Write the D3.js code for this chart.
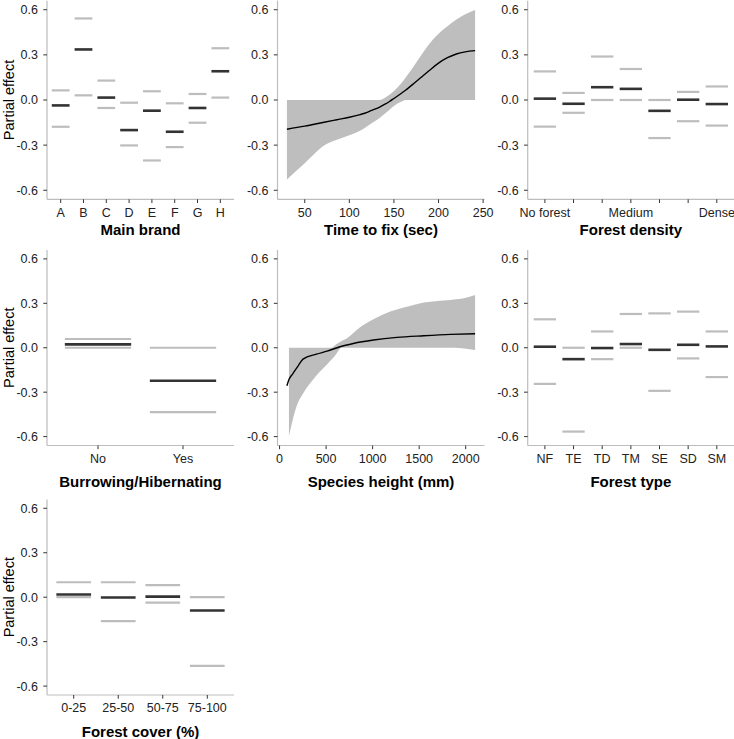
<html>
  <head>
    <style>
      body { margin: 0; background: #fff; }
      text { font-family: Arial, "Liberation Sans", sans-serif; }
    </style>
  </head>
  <body>
    <div id="chart"></div>
    <script src="https://d3js.org/d3.v7.min.js"></script>
    <script>
      // ---- data ----
      const yTicks = [-0.6, -0.3, 0.0, 0.3, 0.6];

      const brandCats  = ["A", "B", "C", "D", "E", "F", "G", "H"];
      const brandFit   = [-0.036, 0.336, 0.016, -0.200, -0.071, -0.211, -0.053, 0.191];
      const brandUpper = [0.064, 0.542, 0.129, -0.018, 0.058, -0.022, 0.040, 0.344];
      const brandLower = [-0.178, 0.031, -0.053, -0.302, -0.402, -0.313, -0.151, 0.016];

      const fixX     = [30, 50, 73, 86, 100, 112, 120, 125, 134, 140, 145, 150, 158, 163, 172, 180, 190, 200, 210, 220, 230, 241];
      const fixFit   = [-0.194, -0.174, -0.146, -0.131, -0.115, -0.097, -0.082, -0.069, -0.047, -0.028, -0.010, 0.010, 0.043, 0.065, 0.108, 0.148, 0.198, 0.245, 0.281, 0.306, 0.320, 0.328];
      const fixUpper = [0, 0, 0, 0, 0, 0, 0, 0, 0, 0.015, 0.035, 0.060, 0.110, 0.148, 0.222, 0.292, 0.375, 0.440, 0.490, 0.535, 0.570, 0.598];
      const fixLower = [-0.528, -0.420, -0.298, -0.265, -0.235, -0.205, -0.174, -0.155, -0.120, -0.090, -0.065, -0.040, -0.012, 0, 0, 0, 0, 0, 0, 0, 0, 0];
      const fixTicks = [50, 100, 150, 200, 250];

      const densityCats   = ["d1", "d2", "d3", "d4", "d5", "d6", "d7"];
      const densityLabels = ["No forest", "", "", "Medium", "", "", "Dense"];
      const densityFit    = [0.009, -0.025, 0.085, 0.074, -0.072, 0.002, -0.027];
      const densityUpper  = [0.190, 0.047, 0.289, 0.206, 0.000, 0.054, 0.090];
      const densityLower  = [-0.177, -0.085, 0.000, 0.000, -0.253, -0.141, -0.170];

      const burrowCats  = ["No", "Yes"];
      const burrowFit   = [0.023, -0.223];
      const burrowUpper = [0.059, 0.000];
      const burrowLower = [0.000, -0.435];

      const heightX     = [79, 101, 144, 198, 252, 396, 512, 649, 793, 1009, 1261, 1550, 1838, 2101];
      const heightFit   = [-0.257, -0.214, -0.174, -0.124, -0.077, -0.043, -0.023, 0.007, 0.029, 0.052, 0.070, 0.081, 0.090, 0.095];
      const heightBandX = [101, 180, 263, 342, 432, 512, 559, 613, 667, 721, 865, 1009, 1189, 1369, 1550, 1838, 1874, 1982, 2101];
      const heightUpper = [0, 0, 0, 0, 0, 0, 0, 0.025, 0.045, 0.063, 0.138, 0.192, 0.244, 0.277, 0.305, 0.323, 0.325, 0.334, 0.356];
      const heightLower = [-0.596, -0.400, -0.298, -0.230, -0.162, -0.111, -0.080, -0.038, 0, 0, 0, 0, 0, 0, 0, 0, 0, -0.005, -0.016];
      const heightTicks = [0, 500, 1000, 1500, 2000];

      const typeCats  = ["NF", "TE", "TD", "TM", "SE", "SD", "SM"];
      const typeFit   = [0.007, -0.077, -0.002, 0.025, -0.014, 0.020, 0.009];
      const typeUpper = [0.192, 0.000, 0.110, 0.228, 0.232, 0.244, 0.110];
      const typeLower = [-0.244, -0.566, -0.077, 0.000, -0.291, -0.072, -0.198];

      const coverCats  = ["0-25", "25-50", "50-75", "75-100"];
      const coverFit   = [0.018, -0.002, 0.004, -0.090];
      const coverUpper = [0.101, 0.101, 0.081, 0.000];
      const coverLower = [0.000, -0.162, -0.036, -0.463];

      // ---- layout ----
      const width = 734, height = 739;
      const cols = [{x: 47, w: 187}, {x: 277.5, w: 207}, {x: 527.7, w: 206.3}];
      const rows = [{y: 0.7, h: 198.6, title: 235}, {y: 250, h: 195.5, title: 486.5}, {y: 499.4, h: 195.6, title: 736.5}];

      const svg = d3.select("#chart").append("svg")
        .attr("width", width)
        .attr("height", height);

      function makePanel(col, row, xTitle, showYLabel) {
        const c = cols[col], r = rows[row];
        const g = svg.append("g").attr("transform", `translate(${c.x},${r.y})`);
        const y = d3.scaleLinear().domain([-0.66, 0.66]).range([r.h, 0]);

        // y axis
        g.append("line").attr("x1", 0).attr("x2", 0).attr("y1", 0).attr("y2", r.h)
          .attr("stroke", "#bdbdbd").attr("stroke-width", 1.2);
        yTicks.forEach(t => {
          g.append("line").attr("x1", -3.7).attr("x2", 0).attr("y1", y(t)).attr("y2", y(t))
            .attr("stroke", "#333").attr("stroke-width", 1);
          g.append("text").attr("x", -9).attr("y", y(t)).attr("dy", "0.36em")
            .attr("text-anchor", "end").attr("font-size", 12.5).attr("fill", "#222")
            .text(t.toFixed(1));
        });
        // x axis line
        g.append("line").attr("x1", 0).attr("x2", c.w).attr("y1", r.h).attr("y2", r.h)
          .attr("stroke", "#bdbdbd").attr("stroke-width", 1.2);

        svg.append("text").attr("x", c.x + c.w / 2).attr("y", r.title)
          .attr("text-anchor", "middle").attr("font-size", 15).attr("font-weight", "bold")
          .attr("fill", "#000").text(xTitle);

        if (showYLabel) {
          svg.append("text")
            .attr("transform", `translate(13.5,${r.y + y(0)}) rotate(-90)`)
            .attr("text-anchor", "middle").attr("font-size", 14.5).attr("fill", "#000")
            .text("Partial effect");
        }
        return {g, y, w: c.w, h: r.h};
      }

      function xTickMarks(p, values, pos, label) {
        values.forEach((v, i) => {
          p.g.append("line").attr("x1", pos(v)).attr("x2", pos(v)).attr("y1", p.h).attr("y2", p.h + 3.7)
            .attr("stroke", "#333").attr("stroke-width", 1);
          p.g.append("text").attr("x", pos(v)).attr("y", p.h + 13).attr("dy", "0.36em")
            .attr("text-anchor", "middle").attr("font-size", 12.5).attr("fill", "#222")
            .text(label(v, i));
        });
      }

      function factorPanel(col, row, title, showY, cats, labels, fit, upper, lower) {
        const p = makePanel(col, row, title, showY);
        const x = d3.scalePoint().domain(cats).range([0, p.w]).padding(0.6);
        const half = x.step() * 0.39;
        const segs = (vals, color, sw) => {
          p.g.append("g").selectAll("line").data(vals).join("line")
            .attr("x1", (d, i) => x(cats[i]) - half)
            .attr("x2", (d, i) => x(cats[i]) + half)
            .attr("y1", d => p.y(d)).attr("y2", d => p.y(d))
            .attr("stroke", color).attr("stroke-width", sw);
        };
        segs(upper, "#bdbdbd", 2.2);
        segs(lower, "#bdbdbd", 2.2);
        segs(fit, "#333333", 2.6);
        xTickMarks(p, cats, x, (v, i) => labels[i]);
      }

      function smoothPanel(col, row, title, showY, lineX, fit, bandX, upper, lower, ticks) {
        const p = makePanel(col, row, title, showY);
        const ext = d3.extent(lineX.concat(bandX));
        const pad = (ext[1] - ext[0]) * 0.05;
        const x = d3.scaleLinear().domain([ext[0] - pad, ext[1] + pad]).range([0, p.w]);
        const area = d3.area()
          .x((d, i) => x(bandX[i]))
          .y0((d, i) => p.y(lower[i]))
          .y1(d => p.y(d))
          .curve(d3.curveMonotoneX);
        p.g.append("path").attr("d", area(upper)).attr("fill", "#bebebe");
        const line = d3.line()
          .x((d, i) => x(lineX[i]))
          .y(d => p.y(d))
          .curve(d3.curveMonotoneX);
        p.g.append("path").attr("d", line(fit)).attr("fill", "none")
          .attr("stroke", "#000").attr("stroke-width", 1.4);
        xTickMarks(p, ticks, x, v => v);
      }

      factorPanel(0, 0, "Main brand", true, brandCats, brandCats, brandFit, brandUpper, brandLower);
      smoothPanel(1, 0, "Time to fix (sec)", false, fixX, fixFit, fixX, fixUpper, fixLower, fixTicks);
      factorPanel(2, 0, "Forest density", false, densityCats, densityLabels, densityFit, densityUpper, densityLower);
      factorPanel(0, 1, "Burrowing/Hibernating", true, burrowCats, burrowCats, burrowFit, burrowUpper, burrowLower);
      smoothPanel(1, 1, "Species height (mm)", false, heightX, heightFit, heightBandX, heightUpper, heightLower, heightTicks);
      factorPanel(2, 1, "Forest type", false, typeCats, typeCats, typeFit, typeUpper, typeLower);
      factorPanel(0, 2, "Forest cover (%)", true, coverCats, coverCats, coverFit, coverUpper, coverLower);
    </script>
  </body>
</html>
